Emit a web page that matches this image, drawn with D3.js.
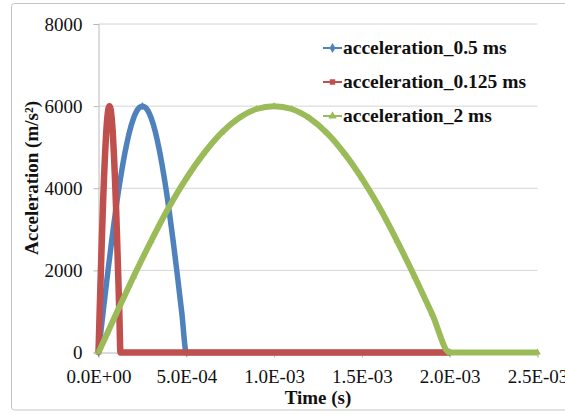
<!DOCTYPE html>
<html>
<head>
<meta charset="utf-8">
<script src="https://cdn.jsdelivr.net/npm/d3@7"></script>
<style>
  body { margin: 0; background: #fff; }
  svg text { font-family: "Liberation Serif", "Times New Roman", "DejaVu Serif", serif; }
</style>
</head>
<body>
<div id="chart"></div>
<script>
// Time values are in ms, the axis labels show seconds
const series_names = ["acceleration_0.5 ms", "acceleration_0.125 ms", "acceleration_2 ms"];

const time_05 = [0, 0.025, 0.05, 0.075, 0.1, 0.125, 0.15, 0.175, 0.2, 0.225, 0.25,
  0.275, 0.3, 0.325, 0.35, 0.375, 0.4, 0.425, 0.45, 0.475, 0.5, 2.0];
const acc_05 = [0, 940, 1850, 2720, 3530, 4240, 4850, 5350, 5710, 5930, 6000,
  5930, 5710, 5350, 4850, 4240, 3530, 2720, 1850, 940, 0, 0];

const time_0125 = [0, 0.00625, 0.0125, 0.01875, 0.025, 0.03125, 0.0375, 0.04375, 0.05, 0.05625, 0.0625,
  0.06875, 0.075, 0.08125, 0.0875, 0.09375, 0.1, 0.10625, 0.1125, 0.11875, 0.125, 2.0];
const acc_0125 = [0, 940, 1850, 2720, 3530, 4240, 4850, 5350, 5710, 5930, 6000,
  5930, 5710, 5350, 4850, 4240, 3530, 2720, 1850, 940, 0, 0];

const time_2 = [0, 0.1, 0.2, 0.3, 0.4, 0.5, 0.6, 0.7, 0.8, 0.9, 1.0,
  1.1, 1.2, 1.3, 1.4, 1.5, 1.6, 1.7, 1.8, 1.9, 2.0, 2.5];
const acc_2 = [0, 940, 1850, 2720, 3530, 4240, 4850, 5350, 5710, 5930, 6000,
  5930, 5710, 5350, 4850, 4240, 3530, 2720, 1850, 940, 0, 0];

const x_ticks = [0, 0.5, 1.0, 1.5, 2.0, 2.5];
const x_tick_labels = ["0.0E+00", "5.0E-04", "1.0E-03", "1.5E-03", "2.0E-03", "2.5E-03"];
const y_ticks = [0, 2000, 4000, 6000, 8000];

const colors = ["#4F81BD", "#C0504D", "#9BBB59"];
const symbols = [d3.symbolDiamond, d3.symbolSquare, d3.symbolTriangle];
const widths = [5.5, 6.5, 6];

const series = [
  { name: series_names[0], data: time_05.map((t, i) => ({ t, a: acc_05[i] })) },
  { name: series_names[1], data: time_0125.map((t, i) => ({ t, a: acc_0125[i] })) },
  { name: series_names[2], data: time_2.map((t, i) => ({ t, a: acc_2[i] })) }
];

const W = 565, H = 414;
const margin = { top: 24, right: 27.5, bottom: 61.5, left: 98.5 };
const width = W - margin.left - margin.right;
const height = H - margin.top - margin.bottom;

const root = d3.select("#chart").append("svg")
  .attr("width", W)
  .attr("height", H);

// outer chart frame
root.append("rect")
  .attr("x", 11.5).attr("y", 3.5)
  .attr("width", 560).attr("height", 406.5)
  .attr("rx", 3)
  .attr("fill", "#fff")
  .attr("stroke", "#c4c4c4");

const svg = root.append("g")
  .attr("transform", `translate(${margin.left},${margin.top})`);

const x = d3.scaleLinear().domain([0, 2.5]).range([0, width]);
const y = d3.scaleLinear().domain([0, 8000]).range([height, 0]);

// gridlines
svg.append("g")
  .selectAll("line")
  .data(y_ticks.filter(d => d > 0))
  .join("line")
    .attr("x1", 0).attr("x2", width)
    .attr("y1", d => y(d)).attr("y2", d => y(d))
    .attr("stroke", "#d4d4d4");

// axes
const yAxis = svg.append("g")
  .call(d3.axisLeft(y).tickValues(y_ticks).tickFormat(d3.format("d")).tickSize(5).tickPadding(11));
const xAxis = svg.append("g")
  .attr("transform", `translate(0,${height})`)
  .call(d3.axisBottom(x).tickValues(x_ticks).tickFormat((d, i) => x_tick_labels[i]).tickSize(5).tickPadding(12));

[xAxis, yAxis].forEach(ax => {
  ax.attr("font-family", null);
  ax.select(".domain").attr("stroke", "#b8b8b8");
  ax.selectAll(".tick line").attr("stroke", "#b8b8b8");
  ax.selectAll("text")
    .style("font-size", "19px")
    .attr("fill", "#111");
});

// series
const line = d3.line()
  .x(d => x(d.t))
  .y(d => y(d.a))
  .curve(d3.curveMonotoneX);

series.forEach((s, i) => {
  const g = svg.append("g");
  g.append("path")
    .datum(s.data)
    .attr("fill", "none")
    .attr("stroke", colors[i])
    .attr("stroke-width", widths[i])
    .attr("stroke-linejoin", "round")
    .attr("d", line);
  g.selectAll("path.mark")
    .data(s.data)
    .join("path")
      .attr("class", "mark")
      .attr("transform", d => `translate(${x(d.t)},${y(d.a)})`)
      .attr("d", d3.symbol().type(symbols[i]).size(20))
      .attr("fill", colors[i]);
});

// legend
const legend = root.append("g").attr("transform", "translate(323,0)");
const legendY = [48, 82, 116];
series.forEach((s, i) => {
  const row = legend.append("g").attr("transform", `translate(0,${legendY[i]})`);
  row.append("line")
    .attr("x1", 0).attr("x2", 19)
    .attr("stroke", colors[i]).attr("stroke-width", 2);
  row.append("path")
    .attr("transform", "translate(9.5,0)")
    .attr("d", d3.symbol().type(symbols[i]).size(30))
    .attr("fill", colors[i]);
  row.append("text")
    .attr("x", 20)
    .attr("y", 6)
    .style("font-size", "19.5px")
    .style("font-weight", "bold")
    .attr("fill", "#111")
    .text(s.name);
});

// axis titles
root.append("text")
  .attr("x", margin.left + width / 2)
  .attr("y", 404)
  .attr("text-anchor", "middle")
  .style("font-size", "19px")
  .style("font-weight", "bold")
  .attr("fill", "#111")
  .text("Time (s)");

root.append("text")
  .attr("transform", "translate(38,178) rotate(-90)")
  .attr("text-anchor", "middle")
  .style("font-size", "19px")
  .style("font-weight", "bold")
  .attr("fill", "#111")
  .text("Acceleration (m/s²)");
</script>
</body>
</html>
